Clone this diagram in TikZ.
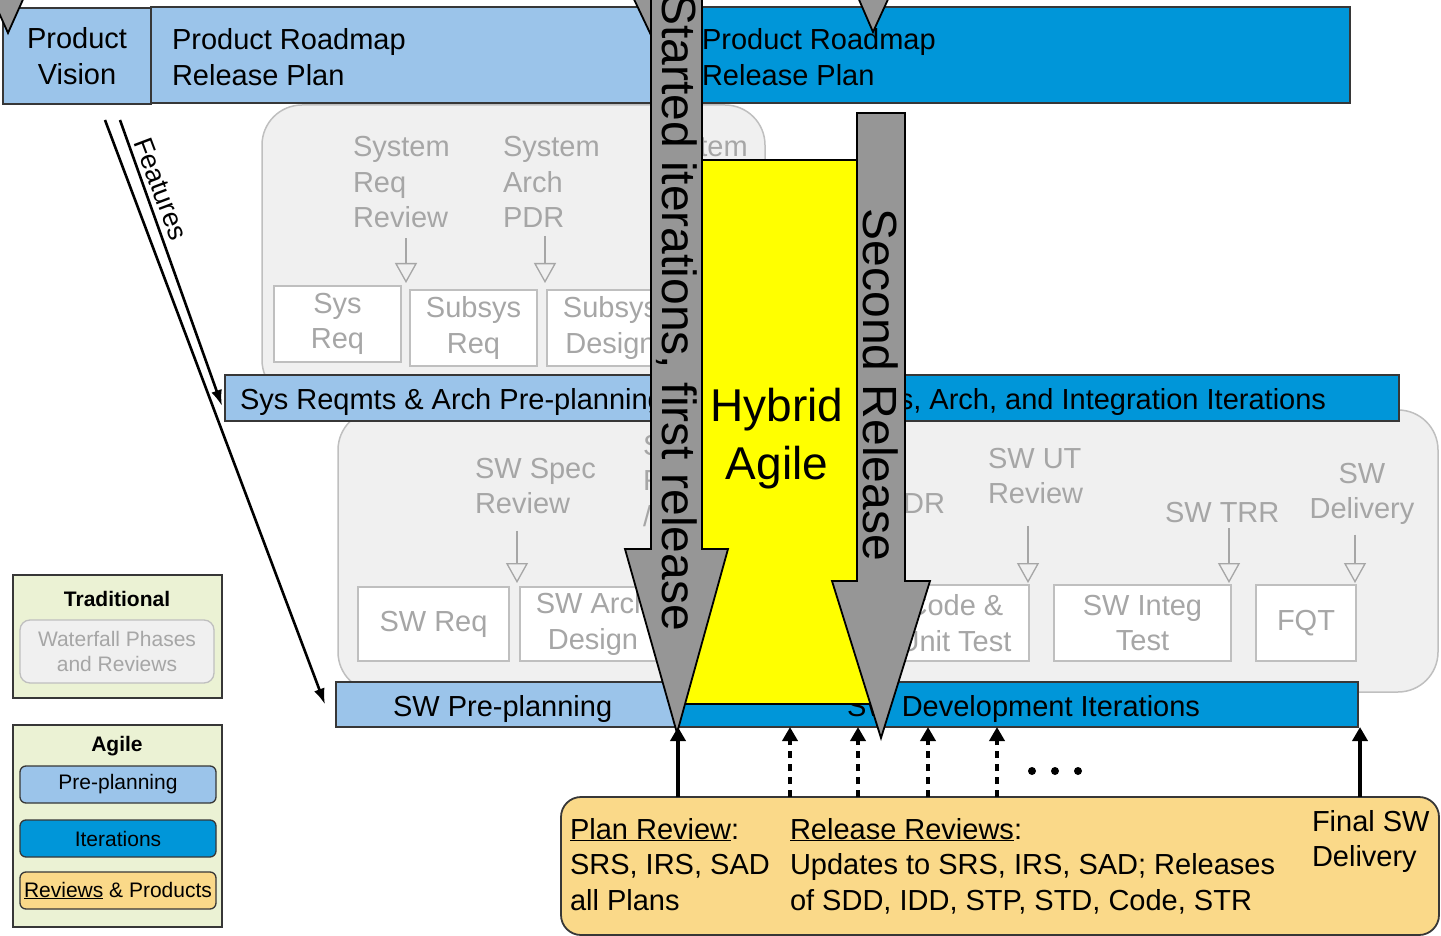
\documentclass[tikz,border=0pt]{standalone}
\usepackage{fontspec}
\setmainfont{Liberation Sans}
\usepackage{tikz}
\usetikzlibrary{arrows.meta,positioning}

\definecolor{lightblue}{RGB}{155,196,234}
\definecolor{darkblue}{RGB}{0,150,217}
\definecolor{paleGray}{RGB}{240,240,240}
\definecolor{lineGray}{RGB}{191,191,191}
\definecolor{textGray}{RGB}{166,166,166}
\definecolor{arrowGray}{RGB}{150,150,150}
\definecolor{edgeGray}{RGB}{55,55,55}
\definecolor{keyGreen}{RGB}{235,242,212}
\definecolor{reviewOrange}{RGB}{250,217,137}
\definecolor{hybridYellow}{RGB}{255,255,0}

\begin{document}
\begin{tikzpicture}[x=1pt, y=-1pt,
  every node/.style={inner sep=0pt, outer sep=0pt},
  txt/.style={font=\fontsize{29}{35.5}\selectfont, align=left},
  graytxt/.style={txt, text=textGray},
  keytxt/.style={font=\fontsize{21}{25}\selectfont},
  lightbar/.style={draw=edgeGray, line width=1.6pt, fill=lightblue},
  darkbar/.style={draw=edgeGray, line width=1.6pt, fill=darkblue},
  wfall/.style={draw=lineGray, line width=1.5pt, fill=paleGray, rounded corners=40pt},
  phase/.style={draw=lineGray, line width=1.5pt, fill=white, graytxt, align=center, anchor=north west},
  gate/.style={-{Triangle[open, length=20pt, width=22pt]}, draw=textGray, line width=1.3pt},
  bigarrow/.style={draw=black, line width=1.8pt, fill=arrowGray},
  keybox/.style={draw=edgeGray, line width=1.3pt, rounded corners=6pt, minimum width=196pt, minimum height=37pt, keytxt},
  feature/.style={-{Latex[length=16pt, width=11pt]}, line width=2.6pt},
  uparrow/.style={-{Triangle[length=14pt, width=15pt]}, line width=3.5pt},
  dotarrow/.style={uparrow, dash pattern=on 7pt off 6pt}
]
\useasboundingbox (0,0) rectangle (1441,936);
\clip (0,0) rectangle (1441,936);

% Product level
\node[lightbar, minimum width=148pt, minimum height=96pt, anchor=north west, txt, align=center] (vision) at (3,8) {Product\\Vision};
\node[lightbar, minimum width=525pt, minimum height=96pt, anchor=north west] (roadmapPre) at (151,7) {};
\node[darkbar, minimum width=674pt, minimum height=96pt, anchor=north west] (roadmapIter) at (676,7) {};
\node[txt, anchor=base west] (roadmapPreText) at (172,85.5) {Product Roadmap\\Release Plan};
\node[txt, anchor=base west] (roadmapIterText) at (702,85.5) {Product Roadmap\\Release Plan};

\draw[bigarrow] (-9,-5) -- (25,-5) -- (8,33) -- cycle;
\draw[bigarrow] (632,-5) -- (668,-5) -- (650,33) -- cycle;
\draw[bigarrow] (857,-5) -- (890,-5) -- (873,32) -- cycle;

% System level phases
\node[wfall, minimum width=503pt, minimum height=295pt, anchor=north west] (sysPhases) at (262,105) {};
\node[graytxt, anchor=base west] (srr) at (353,228) {System\\Req\\Review};
\node[graytxt, anchor=base west] (sysPdr) at (503,228) {System\\Arch\\PDR};
\node[graytxt, anchor=base west] (sysThird) at (651,157) {System};
\node[phase, minimum width=127pt, minimum height=76pt] (sysReq) at (274,286) {Sys\\Req};
\node[phase, minimum width=127pt, minimum height=76pt] (subReq) at (410,290) {Subsys\\Req};
\node[phase, minimum width=127pt, minimum height=76pt] (subDesign) at (547,290) {Subsys\\Design};
\coordinate (srrTip) at (406,283);
\coordinate (pdrTip) at (545,283);
\draw[gate] (srr.south -| srrTip) ++(0,10) -- (srrTip);
\draw[gate] (sysPdr.south -| pdrTip) ++(0,8) -- (pdrTip);

% SW level phases
\node[wfall, minimum width=1100pt, minimum height=282pt, anchor=north west] (swPhases) at (338,410) {};
\node[graytxt, anchor=base west] (ssr) at (475,513.5) {SW Spec\\Review};
\node[graytxt, anchor=base west] (archRev) at (643,526) {SW Arch\\Review\\/ PDR};
\node[graytxt, anchor=base east] (cdr) at (945,513) {SW CDR};
\node[graytxt, anchor=base west] (utRev) at (988,503.5) {SW UT\\Review};
\node[graytxt, anchor=base west] (trr) at (1165,522) {SW TRR};
\node[graytxt, align=center, anchor=base] (delivery) at (1362,518.5) {SW\\Delivery};
\node[phase, minimum width=151pt, minimum height=74pt] (swReq) at (358,587) {SW Req};
\node[phase, minimum width=146pt, minimum height=74pt] (swArch) at (520,587) {SW Arch\\Design};
\node[phase, minimum width=148pt, minimum height=76pt] (code) at (881,585) {Code \&\\Unit Test};
\node[phase, minimum width=177pt, minimum height=76pt] (integ) at (1054,585) {SW Integ\\Test};
\node[phase, minimum width=100pt, minimum height=76pt] (fqt) at (1256,585) {FQT};
\coordinate (ssrTip) at (517,583);
\coordinate (utTip) at (1028,583);
\coordinate (trrTip) at (1229,583);
\coordinate (delTip) at (1355,583);
\draw[gate] (ssr.south -| ssrTip) ++(0,17) -- (ssrTip);
\draw[gate] (utRev.south -| utTip) ++(0,22) -- (utTip);
\draw[gate] (trr.south -| trrTip) ++(0,6) -- (trrTip);
\draw[gate] (delivery.south -| delTip) ++(0,10) -- (delTip);

% Pre-planning and iteration bars
\node[lightbar, minimum width=451pt, minimum height=46pt, anchor=north west] (sysPre) at (225,375) {};
\node[darkbar, minimum width=723pt, minimum height=46pt, anchor=north west] (sysIter) at (676,375) {};
\node[txt, anchor=base west] (sysPreText) at (240,409) {Sys Reqmts \& Arch Pre-planning};
\node[txt, anchor=base east] (sysIterText) at (1326,409) {Sys Reqmts, Arch, and Integration Iterations};
\node[lightbar, minimum width=341pt, minimum height=45pt, anchor=north west] (swPre) at (336,682) {};
\node[darkbar, minimum width=681pt, minimum height=45pt, anchor=north west] (swIter) at (677,682) {};
\node[txt, anchor=base west] (swPreText) at (393,716) {SW Pre-planning};
\node[txt, anchor=base west] (swIterText) at (847,716) {SW Development Iterations};

% Features
\coordinate (featA) at (105,120);
\coordinate (featB) at (120,120);
\draw[feature] (featB) -- ([xshift=-3pt, yshift=-8pt]sysPre.west);
\draw[feature] (featA) -- ([xshift=-11pt]swPre.west);
\node[font=\fontsize{27}{30}\selectfont, rotate=-69.3] (features) at (161,189) {Features};

% Legend
\node[draw=edgeGray, line width=1.5pt, fill=keyGreen, minimum width=209pt, minimum height=123pt, anchor=north west] (tradKey) at (13,575) {};
\node[keytxt, font=\bfseries\fontsize{21}{25}\selectfont, anchor=base] (tradTitle) at (117,606) {Traditional};
\node[draw=lineGray, fill=paleGray, line width=1.3pt, rounded corners=10pt, minimum width=194pt, minimum height=63pt, anchor=north west, text=textGray, keytxt, align=center] (wfKey) at (20,620) {Waterfall Phases\\and Reviews};
\node[draw=edgeGray, line width=1.5pt, fill=keyGreen, minimum width=209pt, minimum height=202pt, anchor=north west] (agileKey) at (13,725) {};
\node[keytxt, font=\bfseries\fontsize{21}{25}\selectfont, anchor=base] (agileTitle) at (117,751) {Agile};
\node[keybox, fill=lightblue, anchor=north west] (preKey) at (20,766) {Pre-planning};
\node[keybox, fill=darkblue, below=17pt of preKey] (iterKey) {Iterations};
\node[keybox, fill=reviewOrange, below=15pt of iterKey] (revKey) {\underline{Reviews} \& Products};

% Reviews and products
\node[draw=edgeGray, line width=1.8pt, fill=reviewOrange, rounded corners=20pt, minimum width=878pt, minimum height=138pt, anchor=north west] (reviews) at (561,797) {};
\node[txt, anchor=base west] (planRev) at (570,910) {\underline{Plan Review}:\\SRS, IRS, SAD\\all Plans};
\node[txt, anchor=base west] (relRev) at (790,910) {\underline{Release Reviews}:\\Updates to SRS, IRS, SAD; Releases\\of SDD, IDD, STP, STD, Code, STR};
\node[txt, anchor=base west] (finalDel) at (1312,866.5) {Final SW\\Delivery};

% Hybrid agile
\node[draw, line width=1.8pt, fill=hybridYellow, minimum width=199pt, minimum height=544pt, anchor=north west] (hybrid) at (676,160) {};
\node[font=\fontsize{46}{58}\selectfont, align=center, anchor=base] (hybridText) at (777,479) {Hybrid\\Agile};
\draw[bigarrow] (651,-20) -- (702,-20) -- (702,549) -- (728,549) -- (677,733) -- (625,549) -- (651,549) -- cycle;
\node[font=\fontsize{48}{58}\selectfont, rotate=-90] (firstRel) at (677,312) {Started iterations, first release};
\draw[bigarrow] (857,113) -- (905,113) -- (905,581) -- (930,581) -- (881,738) -- (832,581) -- (857,581) -- cycle;
\node[font=\fontsize{48}{58}\selectfont, rotate=-90] (secondRel) at (881,385) {Second Release};

% Arrows
\foreach \x in {678,1360} {
  \coordinate (up) at (\x,0);
  \draw[uparrow] (reviews.north -| up) -- (swIter.south -| up);
}
\foreach \x in {790,858,928,997} {
  \coordinate (up) at (\x,0);
  \draw[dotarrow] (reviews.north -| up) -- (swIter.south -| up);
}
\foreach \x in {1032,1055,1078}
  \fill (\x,771) circle (4pt);

\end{tikzpicture}
\end{document}
